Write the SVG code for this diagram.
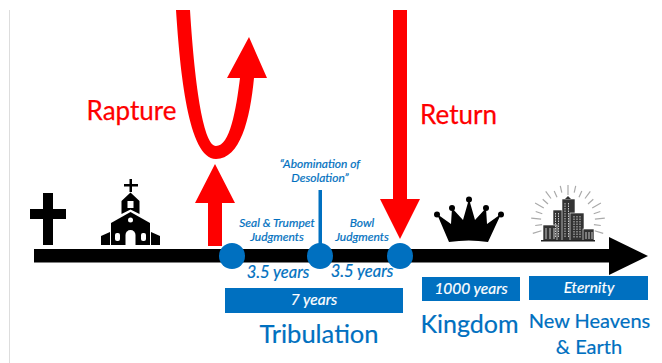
<svg xmlns="http://www.w3.org/2000/svg" width="662" height="363" viewBox="0 0 662 363">
<style>
text{font-family:Lato,"Open Sans","Liberation Sans",sans-serif;text-anchor:middle}
.red{fill:#fe0000}
.blue{fill:#0070c0}
.bt{fill:#0070c0;stroke:#0070c0;stroke-width:.2}
.rt{fill:#fe0000;stroke:#fe0000;stroke-width:.25}
.wt{fill:#fff;font-style:italic;font-size:15.5px;stroke:#fff;stroke-width:.2}
.sm{font-size:12px;font-style:italic}
.yr{font-size:16.5px;font-style:italic}
.ray{stroke:#aaa;stroke-width:1.200;fill:none}
.win{fill:#fff}
.bld{fill:#333;stroke:#fff;stroke-width:.6}
.stripe{stroke:#c8c8c8;stroke-width:1;fill:none}
</style>
<rect width="662" height="363" fill="#fff"/>
<rect x="9" y="10" width="1" height="353" fill="#ddd"/>
<g id="timeline">
<rect x="34" y="249" width="576" height="13.500" fill="#000"/>
<polygon points="609,237 648,256 609,275" fill="#000"/>
</g>
<g id="connectors">
<path class="red" d="M176 10C180 70 188 159 216 159C240 159 250 120 254 78H267L249 37L227 78H240C236 110 230 146 216 146C204 146 195 90 190 10Z"/>
<polygon class="red" points="208,246 208,203 195,203 215,164 235,203 222,203 222,246"/>
<polygon class="red" points="393,10 407,10 407,199 420,199 400,239 380,199 393,199"/>
<rect class="blue" x="318.500" y="190" width="3.500" height="56"/>
</g>
<g id="cross"><path d="M43 193H53V209H66V219H53V245H43V219H30V209H43Z" fill="#000"/></g>
<g id="church">
<path d="M129.500 179H132V184H138V186.500H132V192H129.500V186.500H124V184H129.500Z" fill="#000"/>
<path d="M130.500 192.500L139.500 201V214L130.500 209.500L121.500 214V201Z" fill="#000"/>
<path d="M130.500 212L150 223V245H111V223Z" fill="#000"/>
<path d="M110 232V245H101V236ZM151 232L160 236V245H151Z" fill="#000"/>
<rect class="win" x="127.500" y="201" width="6" height="7"/>
<circle class="win" cx="130.500" cy="220" r="2.500"/>
<path class="win" d="M125.500 245V235A5 5 0 0 1 135.500 235V245Z"/>
<rect class="win" x="115" y="233" width="5" height="8" rx="2"/>
<rect class="win" x="141" y="233" width="5" height="8" rx="2"/>
</g>
<g id="crown">
<path d="M437 214L449 242Q469 239 488 242L501 214L487 224L486 208L475 220L469 199L463 220L452 208L451 224Z" fill="#000"/>
<circle cx="437" cy="214.500" r="3"/><circle cx="452" cy="208" r="3"/><circle cx="469" cy="199.500" r="3"/><circle cx="486" cy="208" r="3"/><circle cx="501" cy="214.500" r="3"/>
</g>
<g id="city">
<path class="ray" d="M568 195V185M574.200 192.700L575.700 185.800M579 197.300L581.800 190.900M585 198.500L590.300 191.300M588 204L593.300 199.300M592.200 208L600.900 203M593.700 213.700L600.300 211.500M594.900 219.200L604.800 218.100M593.900 224.700L600.800 225.500M594.600 230.700L603.200 233.400M561.800 192.700L560.300 185.800M557 197.300L554.200 190.900M551 198.500L545.700 191.300M548 204L542.700 199.300M543.800 208L535.100 203M542.300 213.700L535.700 211.500M541.100 219.200L531.200 218.100M542.100 224.700L535.200 225.500M541.400 230.700L532.800 233.400"/>
<rect class="bld" x="553" y="210" width="10" height="31"/>
<rect class="bld" x="562" y="199" width="13" height="42"/>
<path d="M565 199L568 196L571 199" fill="#333"/>
<rect class="bld" x="570" y="213" width="14" height="28"/>
<rect class="bld" x="543" y="225" width="14" height="16"/>
<rect class="bld" x="583" y="229" width="11" height="12"/>
<path class="stripe" stroke-dasharray="1.500 1" d="M555.500 213V238M558.500 213V238M565 203V238M568.500 203V238M574 216V238M577 216V238M580 216V238"/>
<path class="stripe" d="M546 228V239M550 228V239M554 228V239M586 232V239M589 232V239M592 232V239"/>
<rect x="541" y="240" width="54" height="1.500" fill="#222"/>
</g>
<g id="seal-point"><circle class="blue" cx="232" cy="256" r="13"/></g>
<g id="mid-point"><circle class="blue" cx="320" cy="256" r="13"/></g>
<g id="return-point"><circle class="blue" cx="400" cy="256" r="13"/></g>
<g id="rapture-label"><text class="rt" x="131.500" y="120" font-size="26">Rapture</text></g>
<g id="return-label"><text class="rt" x="458.500" y="124" font-size="26">Return</text></g>
<g id="abomination"><text class="bt sm" x="320" y="168">“Abomination of</text><text class="bt sm" x="320" y="182">Desolation”</text></g>
<g id="seal-label"><text class="bt sm" x="277" y="227">Seal &amp; Trumpet</text><text class="bt sm" x="277" y="241">Judgments</text></g>
<g id="bowl-label"><text class="bt sm" x="362" y="227">Bowl</text><text class="bt sm" x="362" y="241">Judgments</text></g>
<g id="years-a"><text class="bt yr" x="278" y="278">3.5 years</text></g>
<g id="years-b"><text class="bt yr" x="362" y="277">3.5 years</text></g>
<g id="tribulation">
<rect class="blue" x="225" y="288" width="178" height="25"/>
<text class="wt" x="314" y="305">7 years</text>
<text class="bt" x="319" y="343" font-size="25.500">Tribulation</text>
</g>
<g id="kingdom">
<rect class="blue" x="422" y="277" width="98" height="24"/>
<text class="wt" x="471" y="294">1000 years</text>
<text class="bt" x="469.500" y="333" font-size="25">Kingdom</text>
</g>
<g id="new-heavens">
<rect class="blue" x="529" y="276" width="119" height="24"/>
<text class="wt" x="589" y="293">Eternity</text>
<text class="bt" x="589.500" y="328" font-size="20">New Heavens</text>
<text class="bt" x="589" y="354" font-size="20">&amp; Earth</text>
</g>
</svg>
